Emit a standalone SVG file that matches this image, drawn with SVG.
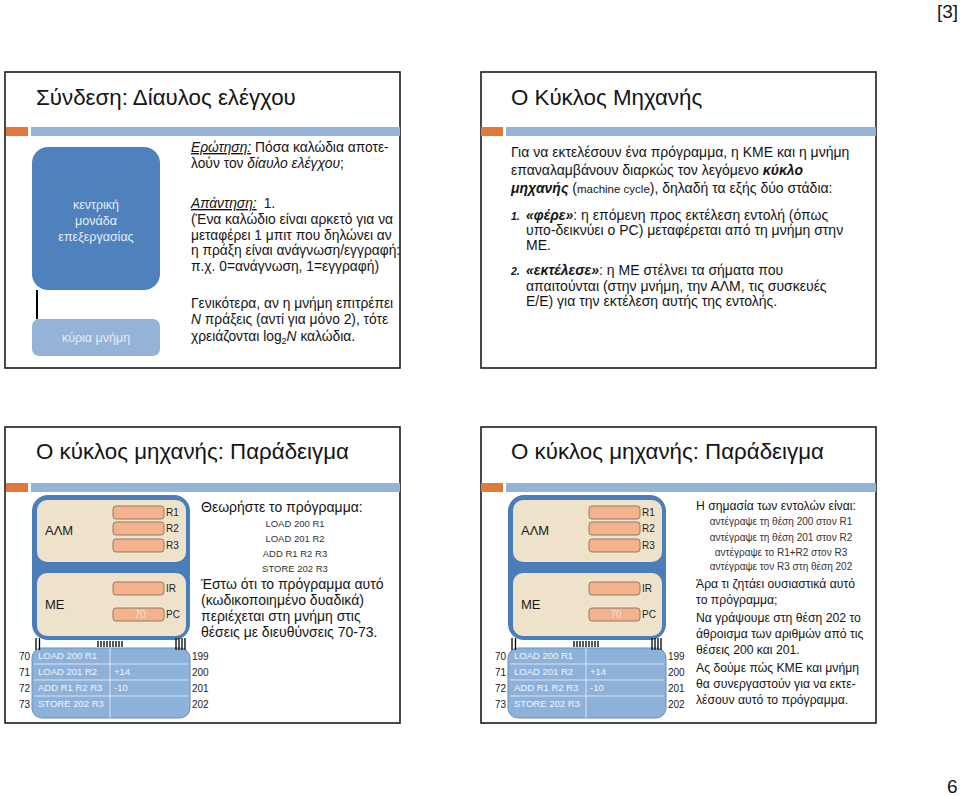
<svg xmlns="http://www.w3.org/2000/svg" width="960" height="796" viewBox="0 0 960 796">
<style>
text{font-family:"Liberation Sans",Arial,sans-serif;fill:#141414}
.frame{fill:#fff;stroke:#1c1c1c;stroke-width:1.6}
.or{fill:#e2793a}
.bar{fill:#95b3d7}
.title{font-size:22.3px}
.b13{font-size:13.8px}
.b14r{font-size:14px}
.b14{font-size:14px}
.b12{font-size:12.2px}
.prog{font-size:9.5px;fill:#333;text-anchor:middle}
.prog2{font-size:10px;fill:#333;text-anchor:middle}
.it{font-style:italic}
.bi{font-style:italic;font-weight:bold}
.ul{text-decoration:underline}
.cpu{fill:#4f81bd}
.mm{fill:#95b3d7}
.wt{fill:#e4ecf6;font-size:12.5px;text-anchor:middle}
.outer{fill:#4a7ebb}
.inner{fill:#efe2cb}
.reg{fill:#f3b28b;stroke:#8f7b6b;stroke-width:1}
.rl{font-size:10px;fill:#222}
.unit{font-size:13px;fill:#1a1a1a}
.mem{fill:#8eb1d9;stroke:#6b91c0;stroke-width:1}
.sep{stroke:#d8e4f1;stroke-width:1}
.mt{font-size:9.5px;fill:#f0f5fb}
.ad{font-size:10px;fill:#222}
.bus{stroke:#000;stroke-width:1.3}
.page{font-size:19px}
</style>
<rect width="960" height="796" fill="#fff"/>
<text class="page" x="937" y="18">[3]</text>
<text class="page" x="947" y="793">6</text>

<!-- Slide 1 -->
<g id="slide1">
<rect class="frame" x="5" y="72" width="395" height="296"/>
<rect class="or" x="6" y="127" width="22" height="9"/>
<rect class="bar" x="31" y="127" width="369" height="9"/>
<text class="title" x="36" y="105">Σύνδεση: Δίαυλος ελέγχου</text>
<g id="cpu-node">
<rect class="cpu" x="32" y="147" width="128" height="143" rx="16"/>
<text class="wt" x="96" y="209">κεντρική</text>
<text class="wt" x="96" y="225">μονάδα</text>
<text class="wt" x="96" y="241">επεξεργασίας</text>
</g>
<g id="mainmem-node">
<rect class="mm" x="32" y="319" width="128" height="37" rx="7"/>
<text class="wt" x="96" y="342">κύρια μνήμη</text>
</g>
<g id="slide1-text">
<text class="b13" x="191" y="152"><tspan class="it ul">Ερώτηση:</tspan> Πόσα καλώδια αποτε-</text>
<text class="b13" x="191" y="168">λούν τον <tspan class="it">δίαυλο ελέγχου</tspan>;</text>
<text class="b13" x="191" y="208"><tspan class="it ul">Απάντηση:</tspan><tspan dx="7">1.</tspan></text>
<text class="b13" x="191" y="224">(Ένα καλώδιο είναι αρκετό για να</text>
<text class="b13" x="191" y="240">μεταφέρει 1 μπιτ που δηλώνει αν</text>
<text class="b13" x="191" y="255">η πράξη είναι ανάγνωση/εγγραφή:</text>
<text class="b13" x="191" y="271">π.χ. 0=ανάγνωση, 1=εγγραφή)</text>
<text class="b13" x="191" y="308">Γενικότερα, αν η μνήμη επιτρέπει</text>
<text class="b13" x="191" y="324"><tspan class="it">Ν</tspan> πράξεις (αντί για μόνο 2), τότε</text>
<text class="b13" x="191" y="341">χρειάζονται log<tspan font-size="9" dy="3">2</tspan><tspan class="it" dy="-3">Ν</tspan> καλώδια.</text>
</g>
</g>

<!-- Slide 2 -->
<g id="slide2">
<rect class="frame" x="481" y="72" width="395" height="296"/>
<rect class="or" x="481" y="127" width="22" height="9"/>
<rect class="bar" x="506" y="127" width="370" height="9"/>
<text class="title" x="511" y="105">Ο Κύκλος Μηχανής</text>
<text class="b14r" x="511" y="157">Για να εκτελέσουν ένα πρόγραμμα, η ΚΜΕ και η μνήμη</text>
<text class="b14r" x="511" y="175">επαναλαμβάνουν διαρκώς τον λεγόμενο <tspan class="bi">κύκλο</tspan></text>
<text class="b14r" x="511" y="193"><tspan class="bi">μηχανής</tspan> (<tspan font-size="11.5">machine cycle</tspan>), δηλαδή τα εξής δύο στάδια:</text>
<text class="bi" x="511" y="220" font-size="10.5">1.</text>
<text class="b14r" x="526" y="220"><tspan class="bi">«φέρε»</tspan>: η επόμενη προς εκτέλεση εντολή (όπως</text>
<text class="b14r" x="526" y="235">υπο-δεικνύει ο PC) μεταφέρεται από τη μνήμη στην</text>
<text class="b14r" x="526" y="250">ΜΕ.</text>
<text class="bi" x="511" y="275" font-size="10.5">2.</text>
<text class="b14r" x="526" y="275"><tspan class="bi">«εκτέλεσε»</tspan>: η ΜΕ στέλνει τα σήματα που</text>
<text class="b14r" x="526" y="291">απαιτούνται (στην μνήμη, την ΑΛΜ, τις συσκευές</text>
<text class="b14r" x="526" y="306">Ε/Ε) για την εκτέλεση αυτής της εντολής.</text>
</g>

<!-- Slide 3 -->
<g id="slide3">
<rect class="frame" x="5" y="427" width="395" height="296"/>
<rect class="or" x="6" y="483" width="22" height="9"/>
<rect class="bar" x="31" y="483" width="369" height="9"/>
<text class="title" x="36" y="459">Ο κύκλος μηχανής: Παράδειγμα</text>
<text class="b14" x="201" y="512">Θεωρήστε το πρόγραμμα:</text>
<text class="prog" x="295" y="527">LOAD 200 R1</text>
<text class="prog" x="295" y="542">LOAD 201 R2</text>
<text class="prog" x="295" y="557">ADD R1 R2 R3</text>
<text class="prog" x="295" y="572">STORE 202 R3</text>
<text class="b14" x="201" y="589">Έστω ότι το πρόγραμμα αυτό</text>
<text class="b14" x="201" y="605">(κωδικοποιημένο δυαδικά)</text>
<text class="b14" x="201" y="621">περιέχεται στη μνήμη στις</text>
<text class="b14" x="201" y="637">θέσεις με διευθύνσεις 70-73.</text>
</g>

<!-- Slide 4 -->
<g id="slide4">
<rect class="frame" x="481" y="427" width="395" height="296"/>
<rect class="or" x="481" y="483" width="22" height="9"/>
<rect class="bar" x="506" y="483" width="370" height="9"/>
<text class="title" x="511" y="459">Ο κύκλος μηχανής: Παράδειγμα</text>
<text class="b12" x="696" y="510">Η σημασία των εντολών είναι:</text>
<text class="prog2" x="781" y="525">αντέγραψε τη θέση 200 στον R1</text>
<text class="prog2" x="781" y="541">αντέγραψε τη θέση 201 στον R2</text>
<text class="prog2" x="781" y="556">αντέγραψε το R1+R2 στον R3</text>
<text class="prog2" x="781" y="570">αντέγραψε τον R3 στη θέση 202</text>
<text class="b12" x="696" y="588">Άρα τι ζητάει ουσιαστικά αυτό</text>
<text class="b12" x="696" y="604">το πρόγραμμα;</text>
<text class="b12" x="696" y="622">Να γράψουμε στη θέση 202 το</text>
<text class="b12" x="696" y="638">άθροισμα των αριθμών από τις</text>
<text class="b12" x="696" y="654">θέσεις 200 και 201.</text>
<text class="b12" x="696" y="672">Ας δούμε πώς ΚΜΕ και μνήμη</text>
<text class="b12" x="696" y="688">θα συνεργαστούν για να εκτε-</text>
<text class="b12" x="696" y="704">λέσουν αυτό το πρόγραμμα.</text>
</g>

<!-- Machine diagrams -->
<g id="machine-left">
<g id="cpu-left">
<rect class="outer" x="32" y="495" width="158" height="145" rx="16"/>
<rect class="inner" x="37" y="500" width="149" height="62" rx="10"/>
<rect class="inner" x="37" y="573" width="149" height="63" rx="10"/>
<text class="unit" x="45" y="535">ΑΛΜ</text>
<text class="unit" x="45" y="609">ΜΕ</text>
<rect class="reg" x="113" y="506" width="51" height="13" rx="3"/>
<rect class="reg" x="113" y="522" width="51" height="13" rx="3"/>
<rect class="reg" x="113" y="539" width="51" height="13" rx="3"/>
<rect class="reg" x="113" y="582" width="51" height="13" rx="3"/>
<rect class="reg" x="113" y="608" width="51" height="13" rx="3"/>
<text class="rl" x="166" y="516">R1</text>
<text class="rl" x="166" y="532">R2</text>
<text class="rl" x="166" y="549">R3</text>
<text class="rl" x="166" y="592">IR</text>
<text class="rl" x="166" y="618">PC</text>
<text x="140" y="618" font-size="10" style="fill:#fbe3d2" text-anchor="middle">70</text>
</g>
<g id="memory-left">
<rect class="mem" x="32" y="648" width="158" height="70" rx="10"/>
<line class="sep" x1="34" y1="664" x2="188" y2="664"/>
<line class="sep" x1="34" y1="680" x2="188" y2="680"/>
<line class="sep" x1="34" y1="696" x2="188" y2="696"/>
<line class="sep" x1="110" y1="648" x2="110" y2="718"/>
<text class="mt" x="38" y="659" style="fill:#f0f5fb">LOAD  200 R1</text>
<text class="mt" x="38" y="675" style="fill:#f0f5fb">LOAD 201 R2</text>
<text class="mt" x="38" y="691" style="fill:#f0f5fb">ADD R1 R2 R3</text>
<text class="mt" x="38" y="707" style="fill:#f0f5fb">STORE 202 R3</text>
<text class="mt" x="114" y="675" style="fill:#f0f5fb">+14</text>
<text class="mt" x="114" y="691" style="fill:#f0f5fb">-10</text>
<text class="ad" x="30" y="660" text-anchor="end">70</text>
<text class="ad" x="30" y="676" text-anchor="end">71</text>
<text class="ad" x="30" y="692" text-anchor="end">72</text>
<text class="ad" x="30" y="708" text-anchor="end">73</text>
<text class="ad" x="192" y="660">199</text>
<text class="ad" x="192" y="676">200</text>
<text class="ad" x="192" y="692">201</text>
<text class="ad" x="192" y="708">202</text>
</g>
</g>

<g id="machine-right" transform="translate(476,0)">
<g id="cpu-right">
<rect class="outer" x="32" y="495" width="158" height="145" rx="16"/>
<rect class="inner" x="37" y="500" width="149" height="62" rx="10"/>
<rect class="inner" x="37" y="573" width="149" height="63" rx="10"/>
<text class="unit" x="45" y="535">ΑΛΜ</text>
<text class="unit" x="45" y="609">ΜΕ</text>
<rect class="reg" x="113" y="506" width="51" height="13" rx="3"/>
<rect class="reg" x="113" y="522" width="51" height="13" rx="3"/>
<rect class="reg" x="113" y="539" width="51" height="13" rx="3"/>
<rect class="reg" x="113" y="582" width="51" height="13" rx="3"/>
<rect class="reg" x="113" y="608" width="51" height="13" rx="3"/>
<text class="rl" x="166" y="516">R1</text>
<text class="rl" x="166" y="532">R2</text>
<text class="rl" x="166" y="549">R3</text>
<text class="rl" x="166" y="592">IR</text>
<text class="rl" x="166" y="618">PC</text>
<text x="140" y="618" font-size="10" style="fill:#fbe3d2" text-anchor="middle">70</text>
</g>
<g id="memory-right">
<rect class="mem" x="32" y="648" width="158" height="70" rx="10"/>
<line class="sep" x1="34" y1="664" x2="188" y2="664"/>
<line class="sep" x1="34" y1="680" x2="188" y2="680"/>
<line class="sep" x1="34" y1="696" x2="188" y2="696"/>
<line class="sep" x1="110" y1="648" x2="110" y2="718"/>
<text class="mt" x="38" y="659" style="fill:#f0f5fb">LOAD  200 R1</text>
<text class="mt" x="38" y="675" style="fill:#f0f5fb">LOAD 201 R2</text>
<text class="mt" x="38" y="691" style="fill:#f0f5fb">ADD R1 R2 R3</text>
<text class="mt" x="38" y="707" style="fill:#f0f5fb">STORE 202 R3</text>
<text class="mt" x="114" y="675" style="fill:#f0f5fb">+14</text>
<text class="mt" x="114" y="691" style="fill:#f0f5fb">-10</text>
<text class="ad" x="30" y="660" text-anchor="end">70</text>
<text class="ad" x="30" y="676" text-anchor="end">71</text>
<text class="ad" x="30" y="692" text-anchor="end">72</text>
<text class="ad" x="30" y="708" text-anchor="end">73</text>
<text class="ad" x="192" y="660">199</text>
<text class="ad" x="192" y="676">200</text>
<text class="ad" x="192" y="692">201</text>
<text class="ad" x="192" y="708">202</text>
</g>
</g>

<!-- Connectors -->
<g id="connectors">
<line x1="37" y1="290" x2="37" y2="319" stroke="#000" stroke-width="2"/>
<g id="bus-left">
<path class="bus" d="M36 638V650M39.5 638V650M176 638V650M179 638V650M182 638V650M185 638V650M98 641V647M101 641V647M104 641V647M107 641V647M110 641V647M113 641V647M116 641V647M119 641V647M122 641V647"/>
</g>
<g id="bus-right" transform="translate(476,0)">
<path class="bus" d="M36 638V650M39.5 638V650M176 638V650M179 638V650M182 638V650M185 638V650M98 641V647M101 641V647M104 641V647M107 641V647M110 641V647M113 641V647M116 641V647M119 641V647M122 641V647"/>
</g>
</g>
</svg>
